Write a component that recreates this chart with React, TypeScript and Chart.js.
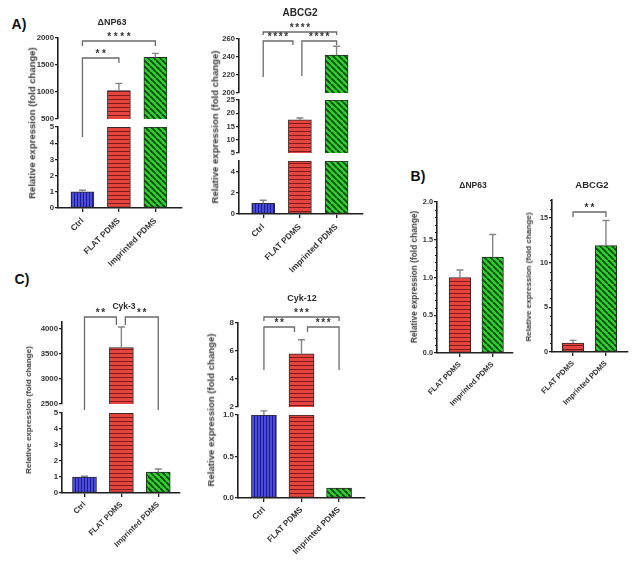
import React, { useEffect, useRef } from 'react';
import { Chart, registerables } from 'chart.js';
Chart.register(...registerables);

const FONT = '"Liberation Sans", Arial, Helvetica, sans-serif';

// ---------- data ----------
const threeGroups = ['Ctrl', 'FLAT PDMS', 'Imprinted PDMS'];
const twoGroups = ['FLAT PDMS', 'Imprinted PDMS'];

const aNp63Mean = [1.0, 1025, 1640];
const aNp63Err = [0.1, 135, 75];
const aAbcg2Mean = [1.0, 17.5, 242];
const aAbcg2Err = [0.3, 0.7, 10];
const bNp63Mean = [1.0, 1.27];
const bNp63Err = [0.1, 0.3];
const bAbcg2Mean = [1.0, 11.9];
const bAbcg2Err = [0.3, 2.8];
const cCyk3Mean = [1.0, 3630, 1.3];
const cCyk3Err = [0.05, 410, 0.2];
const cCyk12Mean = [1.0, 5.8, 0.12];
const cCyk12Err = [0.05, 1.0, 0];

const aNp63TicksUpper = [500, 1000, 1500, 2000];
const aNp63TicksLower = [0, 1, 2, 3, 4, 5];
const aAbcg2TicksUpper = [200, 220, 240, 260];
const aAbcg2TicksMiddle = [5, 10, 15, 20, 25];
const aAbcg2TicksLower = [0, 1, 2, 3, 4, 5];
const bNp63Ticks = [0, 0.5, 1, 1.5, 2];
const bAbcg2Ticks = [0, 5, 10, 15];
const cCyk3TicksUpper = [2500, 3000, 3500, 4000];
const cCyk3TicksLower = [0, 1, 2, 3, 4, 5];
const cCyk12TicksUpper = [2, 4, 6, 8];
const cCyk12TicksLower = [0, 0.5, 1];

// significance: [i, j, label]
const aNp63Sig: [number, number, string][] = [[0, 1, '**'], [0, 2, '****']];
const aAbcg2Sig: [number, number, string][] = [[0, 2, '****'], [0, 1, '****'], [1, 2, '****']];
const bAbcg2Sig: [number, number, string][] = [[0, 1, '**']];
const cCyk3Sig: [number, number, string][] = [[0, 1, '**'], [1, 2, '**']];
const cCyk12Sig: [number, number, string][] = [[0, 2, '***'], [0, 1, '**'], [1, 2, '***']];

// ---------- types ----------
type Seg = { min: number; max: number; top: number; bottom: number; ticks: number[]; dec: number; minor?: number };
type BrGeom = { top: number; legI: number; legJ: number; offI?: number; offJ?: number };
type PanelCfg = {
  title: string;
  titleX: number; titleY: number; titleSize: number;
  yTitleX: number; yTitleY: number; yTitleSize: number;
  box: { x: number; y: number; w: number; h: number };
  axisX: number; axisRight: number; xMin: number; xMax: number; barWidth: number;
  groups: string[]; means: number[]; errs: number[];
  segs: Seg[];
  sig: [number, number, string][];
  brGeom: BrGeom[];
  starGap: number;
  tickSize: number; labelSize: number; labelPad: number;
};

const patternCache: Record<string, CanvasPattern> = {};
function patternFor(g: string): CanvasPattern {
  if (patternCache[g]) return patternCache[g];
  const c = document.createElement('canvas');
  const ctx = c.getContext('2d')!;
  if (g === 'Ctrl') {
    c.width = 3; c.height = 2;
    ctx.fillStyle = '#4a4ae4'; ctx.fillRect(0, 0, 3, 2);
    ctx.fillStyle = '#1e1e78'; ctx.fillRect(2, 0, 1, 2);
  } else if (g === 'FLAT PDMS') {
    c.width = 2; c.height = 4;
    ctx.fillStyle = '#e8443f'; ctx.fillRect(0, 0, 2, 4);
    ctx.fillStyle = '#7c1d1b'; ctx.fillRect(0, 3, 2, 1);
  } else {
    const s = 6; c.width = s; c.height = s;
    ctx.fillStyle = '#2fd02f'; ctx.fillRect(0, 0, s, s);
    ctx.strokeStyle = '#0f4a0f'; ctx.lineWidth = 1.9;
    for (const k of [-s, 0, s]) { ctx.beginPath(); ctx.moveTo(k, 0); ctx.lineTo(k + s, s); ctx.stroke(); }
  }
  const p = ctx.createPattern(c, 'repeat')!;
  patternCache[g] = p;
  return p;
}

const panels: PanelCfg[] = [
  {
    title: '\u0394NP63', titleX: 112, titleY: 22, titleSize: 9,
    yTitleX: 32, yTitleY: 123, yTitleSize: 9.5,
    box: { x: 18, y: 0, w: 176, h: 290 },
    axisX: 58, axisRight: 182, xMin: -0.67, xMax: 2.73, barWidth: 23,
    groups: threeGroups, means: aNp63Mean, errs: aNp63Err,
    segs: [
      { min: 500, max: 2000, top: 38, bottom: 119, ticks: aNp63TicksUpper, dec: 0 },
      { min: 0, max: 5, top: 127, bottom: 208, ticks: aNp63TicksLower, dec: 0 },
    ],
    sig: aNp63Sig,
    brGeom: [{ top: 58, legI: 137, legJ: 63 }, { top: 41, legI: 46, legJ: 46 }],
    starGap: 6.5, tickSize: 7.8, labelSize: 8.4, labelPad: 4,
  },
  {
    title: 'ABCG2', titleX: 300, titleY: 13, titleSize: 10,
    yTitleX: 215, yTitleY: 127, yTitleSize: 9.6,
    box: { x: 199, y: 0, w: 176, h: 290 },
    axisX: 239, axisRight: 363, xMin: -0.66, xMax: 2.72, barWidth: 23,
    groups: threeGroups, means: aAbcg2Mean, errs: aAbcg2Err,
    segs: [
      { min: 200, max: 260, top: 39, bottom: 93, ticks: aAbcg2TicksUpper, dec: 0 },
      { min: 5, max: 25, top: 100, bottom: 153, ticks: aAbcg2TicksMiddle, dec: 0 },
      { min: 0, max: 5, top: 161, bottom: 214, ticks: aAbcg2TicksLower, dec: 0 },
    ],
    sig: aAbcg2Sig,
    brGeom: [
      { top: 32, legI: 35, legJ: 35 },
      { top: 41, legI: 77, legJ: 45, offJ: -7 },
      { top: 41, legI: 76, legJ: 45, offI: 2 },
    ],
    starGap: 5.5, tickSize: 7.6, labelSize: 8.4, labelPad: 4,
  },
  {
    title: '\u0394NP63', titleX: 473, titleY: 185, titleSize: 8.5,
    yTitleX: 414, yTitleY: 277, yTitleSize: 8.3,
    box: { x: 397, y: 170, w: 128, h: 260 },
    axisX: 437, axisRight: 513, xMin: -0.70, xMax: 1.62, barWidth: 21.5,
    groups: twoGroups, means: bNp63Mean, errs: bNp63Err,
    segs: [{ min: 0, max: 2, top: 202, bottom: 353, ticks: bNp63Ticks, dec: 1, minor: 0.1 }],
    sig: [], brGeom: [],
    starGap: 6, tickSize: 7.3, labelSize: 7.6, labelPad: 3,
  },
  {
    title: 'ABCG2', titleX: 592, titleY: 185, titleSize: 9.5,
    yTitleX: 529, yTitleY: 277, yTitleSize: 8.1,
    box: { x: 512, y: 170, w: 128, h: 260 },
    axisX: 552, axisRight: 628, xMin: -0.64, xMax: 1.67, barWidth: 21.5,
    groups: twoGroups, means: bAbcg2Mean, errs: bAbcg2Err,
    segs: [{ min: 0, max: 17, top: 200, bottom: 352, ticks: bAbcg2Ticks, dec: 0, minor: 1 }],
    sig: bAbcg2Sig, brGeom: [{ top: 212, legI: 217, legJ: 217 }],
    starGap: 6, tickSize: 7.3, labelSize: 7.6, labelPad: 3,
  },
  {
    title: 'Cyk-3', titleX: 124, titleY: 306, titleSize: 8.5,
    yTitleX: 29, yTitleY: 410, yTitleSize: 8,
    box: { x: 22, y: 290, w: 170, h: 273 },
    axisX: 62, axisRight: 180, xMin: -0.61, xMax: 2.59, barWidth: 24,
    groups: threeGroups, means: cCyk3Mean, errs: cCyk3Err,
    segs: [
      { min: 2500, max: 4140, top: 322, bottom: 404, ticks: cCyk3TicksUpper, dec: 0 },
      { min: 0, max: 5, top: 413, bottom: 493, ticks: cCyk3TicksLower, dec: 0 },
    ],
    sig: cCyk3Sig,
    brGeom: [
      { top: 317, legI: 410, legJ: 325, offJ: -5 },
      { top: 317, legI: 325, legJ: 410, offI: 4 },
    ],
    starGap: 5.5, tickSize: 7.8, labelSize: 7.8, labelPad: 3,
  },
  {
    title: 'Cyk-12', titleX: 302, titleY: 298, titleSize: 9,
    yTitleX: 211, yTitleY: 410, yTitleSize: 9.6,
    box: { x: 198, y: 290, w: 180, h: 273 },
    axisX: 238, axisRight: 365, xMin: -0.69, xMax: 2.69, barWidth: 25,
    groups: threeGroups, means: cCyk12Mean, errs: cCyk12Err,
    segs: [
      { min: 2, max: 8, top: 323, bottom: 407, ticks: cCyk12TicksUpper, dec: 0 },
      { min: 0, max: 1, top: 415, bottom: 498, ticks: cCyk12TicksLower, dec: 1 },
    ],
    sig: cCyk12Sig,
    brGeom: [
      { top: 317, legI: 321, legJ: 321 },
      { top: 327, legI: 370, legJ: 332, offJ: -7 },
      { top: 327, legI: 332, legJ: 370, offI: 6 },
    ],
    starGap: 5.5, tickSize: 8, labelSize: 8.2, labelPad: 3,
  },
];

const AXIS = '#1f1f1f';
const TEXT = '#333333';

function buildChart(canvas: HTMLCanvasElement, p: PanelCfg, seg: Seg, isBottom: boolean, isTop: boolean) {
  const yW = p.axisX - p.box.x;
  const padTop = seg.top - p.box.y;
  const padRight = p.box.x + p.box.w - p.axisRight;
  const below = p.box.y + p.box.h - seg.bottom;
  const inSeg = (v: number) => (seg.min <= 0 ? v <= seg.max : v > seg.min && v <= seg.max);
  const values = p.means.map((v, k) => ({
    x: k,
    y: seg.min <= 0 ? Math.min(v, seg.max) : v > seg.min ? Math.min(v, seg.max) : null,
  }));
  const bg = p.groups.map((g) => patternFor(g));

  const extras = {
    id: 'extras',
    afterDatasetsDraw(chart: any) {
      const ctx = chart.ctx as CanvasRenderingContext2D;
      const xs = chart.scales.x, ys = chart.scales.y;
      ctx.save();
      ctx.strokeStyle = '#858585';
      ctx.lineWidth = 1.4;
      p.means.forEach((v, k) => {
        const e = p.errs[k];
        if (!e || !inSeg(v)) return;
        const x = xs.getPixelForValue(k);
        const y0 = ys.getPixelForValue(v);
        const y1 = ys.getPixelForValue(v + e);
        ctx.beginPath();
        ctx.moveTo(x, y0); ctx.lineTo(x, y1);
        ctx.moveTo(x - 3.5, y1); ctx.lineTo(x + 3.5, y1);
        ctx.stroke();
      });
      ctx.restore();
    },
    afterDraw(chart: any) {
      const ctx = chart.ctx as CanvasRenderingContext2D;
      const xs = chart.scales.x, ys = chart.scales.y;
      ctx.save();
      if (seg.minor) {
        ctx.strokeStyle = AXIS; ctx.lineWidth = 1;
        const ax = chart.chartArea.left;
        const n = Math.round((seg.max - seg.min) / seg.minor);
        for (let m = 0; m <= n; m++) {
          const v = seg.min + m * seg.minor;
          if (seg.ticks.some((t) => Math.abs(t - v) < 1e-6)) continue;
          const y = Math.round(ys.getPixelForValue(v)) + 0.5;
          ctx.beginPath(); ctx.moveTo(ax - 2, y); ctx.lineTo(ax, y); ctx.stroke();
        }
      }
      if (isTop) {
        ctx.strokeStyle = '#6a6a6a';
        ctx.lineWidth = 1.3;
        ctx.fillStyle = '#333';
        const fs = 10;
        ctx.font = `bold ${fs}px ${FONT}`;
        ctx.textAlign = 'center';
        ctx.textBaseline = 'alphabetic';
        p.sig.forEach(([i, j, label], b) => {
          const g = p.brGeom[b];
          const xi = xs.getPixelForValue(i) + (g.offI || 0);
          const xj = xs.getPixelForValue(j) + (g.offJ || 0);
          const oy = p.box.y;
          const t = g.top - oy;
          ctx.beginPath();
          ctx.moveTo(xi, g.legI - oy); ctx.lineTo(xi, t); ctx.lineTo(xj, t); ctx.lineTo(xj, g.legJ - oy);
          ctx.stroke();
          const n = label.length;
          const cx = (xi + xj) / 2;
          const cy = t - 7;
          for (let m = 0; m < n; m++) {
            ctx.fillText('*', cx - ((n - 1) * p.starGap) / 2 + m * p.starGap, cy + 0.57 * fs);
          }
        });
      }
      ctx.restore();
    },
  };

  return new Chart(canvas, {
    type: 'bar',
    data: {
      datasets: [
        {
          data: values as any,
          backgroundColor: bg as any,
          borderColor: '#2a2a2a',
          borderWidth: 1,
          borderSkipped: false,
          barThickness: p.barWidth,
        } as any,
      ],
    },
    options: {
      responsive: false,
      maintainAspectRatio: false,
      animation: false,
      devicePixelRatio: 1,
      layout: { padding: { left: 0, top: padTop, right: padRight, bottom: isBottom ? 0 : below } },
      plugins: { legend: { display: false }, tooltip: { enabled: false }, title: { display: false } },
      scales: {
        x: {
          type: 'linear',
          min: p.xMin,
          max: p.xMax,
          offset: false,
          display: isBottom,
          afterFit: isBottom ? (s: any) => { s.height = below; } : undefined,
          afterBuildTicks: (s: any) => { s.ticks = p.groups.map((_, k) => ({ value: k })); },
          ticks: {
            callback: (v: any) => p.groups[Math.round(Number(v))] ?? '',
            minRotation: 45,
            maxRotation: 45,
            autoSkip: false,
            padding: p.labelPad,
            color: TEXT,
            font: { family: FONT, size: p.labelSize, weight: 'bold' },
          },
          grid: { display: true, drawOnChartArea: false, drawTicks: true, tickLength: 4, color: AXIS, lineWidth: 1.3, offset: false },
          border: { display: true, color: AXIS, width: 1.6 },
        } as any,
        y: {
          type: 'linear',
          min: seg.min,
          max: seg.max,
          afterFit: (s: any) => { s.width = yW; },
          afterBuildTicks: (s: any) => { s.ticks = seg.ticks.map((v) => ({ value: v })); },
          ticks: {
            callback: (v: any) => Number(v).toFixed(seg.dec),
            padding: 1,
            color: TEXT,
            font: { family: FONT, size: p.tickSize, weight: 'bold' },
          },
          grid: { display: true, drawOnChartArea: false, drawTicks: true, tickLength: 3, color: AXIS, lineWidth: 1.3 },
          border: { display: true, color: AXIS, width: 1.6 },
        } as any,
      },
    },
    plugins: [extras as any],
  });
}

function PanelView({ p }: { p: PanelCfg }) {
  const refs = useRef<(HTMLCanvasElement | null)[]>([]);
  useEffect(() => {
    const charts = p.segs.map((seg, si) =>
      buildChart(refs.current[si]!, p, seg, si === p.segs.length - 1, si === 0)
    );
    return () => charts.forEach((c) => c.destroy());
  }, [p]);
  return (
    <>
      {p.segs.map((_, si) => (
        <canvas
          key={si}
          ref={(el) => { refs.current[si] = el; }}
          width={p.box.w}
          height={p.box.h}
          style={{ position: 'absolute', left: p.box.x, top: p.box.y, width: p.box.w, height: p.box.h }}
        />
      ))}
      <div
        style={{
          position: 'absolute', left: p.titleX, top: p.titleY, transform: 'translate(-50%,-50%)',
          font: `bold ${p.titleSize}px ${FONT}`, color: '#2a2a2a', whiteSpace: 'nowrap', lineHeight: 1,
        }}
      >
        {p.title}
      </div>
      <div
        style={{
          position: 'absolute', left: p.yTitleX, top: p.yTitleY, transform: 'translate(-50%,-50%) rotate(-90deg)',
          font: `bold ${p.yTitleSize}px ${FONT}`, color: '#3a3a3a', whiteSpace: 'nowrap', lineHeight: 1,
        }}
      >
        Relative expression (fold change)
      </div>
    </>
  );
}

const letterStyle = (x: number, y: number): React.CSSProperties => ({
  position: 'absolute', left: x, top: y, transform: 'translate(-50%,-50%)',
  font: `bold 14px ${FONT}`, color: '#111', whiteSpace: 'nowrap', lineHeight: 1,
});

export default function App() {
  return (
    <div style={{ position: 'absolute', left: 0, top: 0, width: 642, height: 563, overflow: 'hidden', background: '#fff' }}>
      <div style={letterStyle(19, 24)}>A)</div>
      <div style={letterStyle(418, 176)}>B)</div>
      <div style={letterStyle(22, 279)}>C)</div>
      {panels.map((p, i) => (
        <PanelView key={i} p={p} />
      ))}
    </div>
  );
}
